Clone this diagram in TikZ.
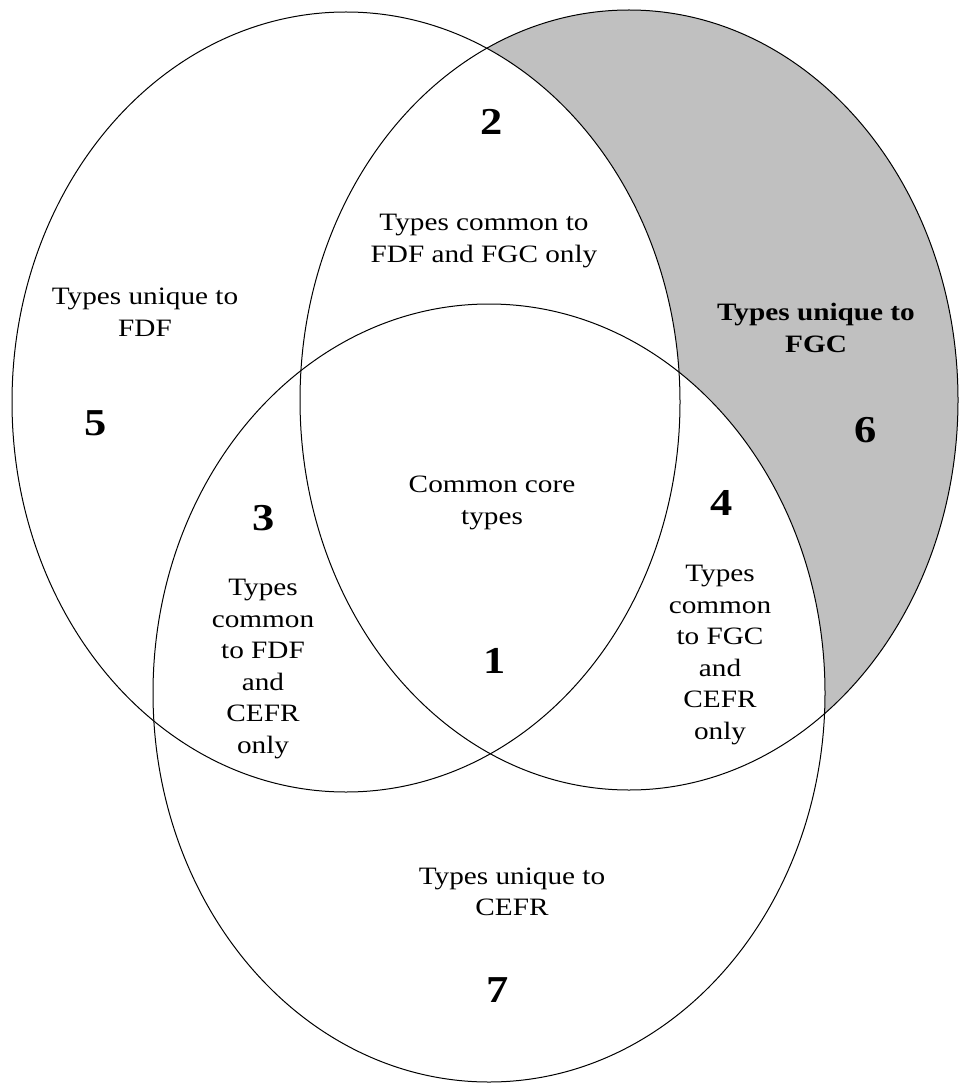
\documentclass[tikz,border=0pt]{standalone}
\usepackage{fontspec}
\setmainfont{Liberation Serif}[FakeStretch=1.17]
\definecolor{fgcgray}{HTML}{C0C0C0}

\begin{document}
\begin{tikzpicture}[
    x=1pt, y=-1pt,
    setline/.style={draw=black, line width=1pt},
    lbl/.style={align=center, inner sep=0pt, font=\fontsize{25}{31.5}\selectfont},
    num/.style={inner sep=0pt, font=\fontsize{38}{38}\selectfont\bfseries}
]
    \useasboundingbox (0,0) rectangle (959,1083);

    % Set centres
    \coordinate (fdf) at (346,402);
    \coordinate (fgc) at (629,400);
    \coordinate (cefr) at (489,693);

    % Shaded region: FGC only
    \fill[fgcgray] (fgc) ellipse [x radius=329, y radius=390];
    \fill[white] (fdf) ellipse [x radius=334, y radius=390];
    \fill[white] (cefr) ellipse [x radius=336, y radius=389];

    % Outlines
    \draw[setline] (fdf) ellipse [x radius=334, y radius=390];
    \draw[setline] (fgc) ellipse [x radius=329, y radius=390];
    \draw[setline] (cefr) ellipse [x radius=336, y radius=389];

    % Region labels
    \node[lbl] (fdfonly) at (145,312) {Types unique to\\FDF};
    \node[lbl] (fdffgc) at (484,241) {Types common to\\FDF and FGC only};
    \node[lbl, font=\fontsize{25}{31.5}\selectfont\bfseries] (fgconly) at (816,328) {Types unique to\\FGC};
    \node[lbl] (core) at (492,503) {Common core\\types};
    \node[lbl] (fdfcefr) at (263,669) {Types\\common\\to FDF\\and\\CEFR\\only};
    \node[lbl] (fgccefr) at (720,655) {Types\\common\\to FGC\\and\\CEFR\\only};
    \node[lbl] (cefronly) at (512,892) {Types unique to\\CEFR};

    % Region numbers
    \node[num] (n1) at (495,661) {1};
    \node[num] (n2) at (492,122) {2};
    \node[num] (n3) at (264,518) {3};
    \node[num] (n4) at (722,503) {4};
    \node[num] (n5) at (96,423) {5};
    \node[num] (n6) at (866,430) {6};
    \node[num] (n7) at (498,990) {7};
\end{tikzpicture}
\end{document}
